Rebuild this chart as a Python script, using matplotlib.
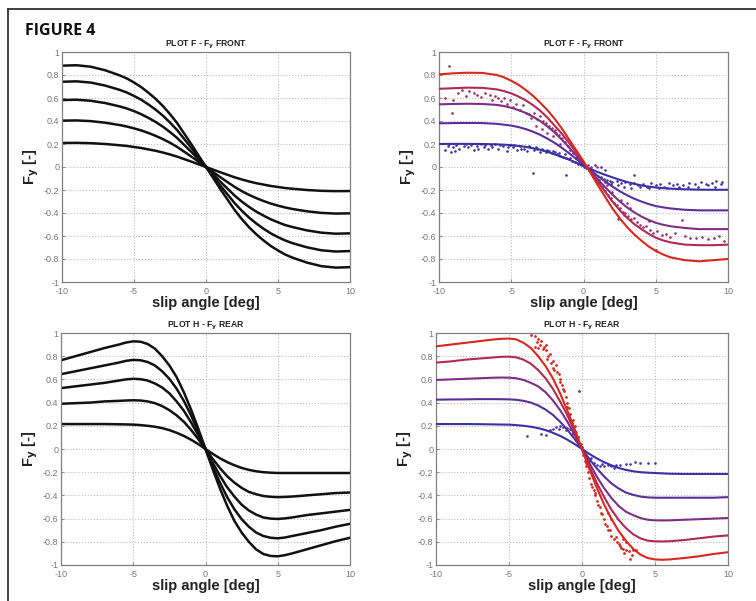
import matplotlib
matplotlib.use("Agg")
import matplotlib.pyplot as plt
from matplotlib.lines import Line2D

plt.rcParams['font.family'] = ['Liberation Sans', 'DejaVu Sans']

# ---------------- data ----------------
slip = [-10, -9, -8, -7, -6, -5.5, -5, -4.5, -4, -3.5, -3, -2.5, -2, -1.5, -1, -0.5, 0,
        0.5, 1, 1.5, 2, 2.5, 3, 3.5, 4, 4.5, 5, 5.5, 6, 7, 8, 9, 10]

# Plot F (front) - model curves, black (top-left)
front_bw = [
    [0.209, 0.21, 0.207, 0.2, 0.189, 0.183, 0.174, 0.165, 0.153, 0.141, 0.126, 0.109, 0.09, 0.068, 0.046, 0.023, 0,
     -0.023, -0.046, -0.068, -0.09, -0.109, -0.126, -0.141, -0.153, -0.165, -0.174, -0.183, -0.189, -0.2, -0.207, -0.21, -0.209],
    [0.403, 0.405, 0.399, 0.385, 0.365, 0.352, 0.336, 0.318, 0.296, 0.271, 0.243, 0.211, 0.174, 0.132, 0.089, 0.045, 0,
     -0.045, -0.089, -0.132, -0.174, -0.211, -0.243, -0.271, -0.296, -0.318, -0.336, -0.352, -0.365, -0.385, -0.399, -0.405, -0.403],
    [0.582, 0.585, 0.576, 0.556, 0.527, 0.509, 0.486, 0.459, 0.427, 0.392, 0.351, 0.304, 0.252, 0.19, 0.129, 0.064, 0,
     -0.064, -0.128, -0.189, -0.25, -0.302, -0.348, -0.389, -0.423, -0.455, -0.481, -0.505, -0.522, -0.551, -0.571, -0.58, -0.577],
    [0.741, 0.745, 0.734, 0.708, 0.671, 0.648, 0.618, 0.585, 0.544, 0.499, 0.447, 0.387, 0.32, 0.242, 0.164, 0.082, 0,
     -0.081, -0.162, -0.239, -0.316, -0.382, -0.441, -0.492, -0.537, -0.577, -0.61, -0.639, -0.662, -0.698, -0.724, -0.735, -0.731],
    [0.881, 0.885, 0.872, 0.841, 0.797, 0.77, 0.735, 0.695, 0.646, 0.593, 0.531, 0.46, 0.381, 0.288, 0.195, 0.097, 0,
     -0.096, -0.193, -0.284, -0.376, -0.455, -0.525, -0.586, -0.639, -0.687, -0.726, -0.761, -0.788, -0.831, -0.862, -0.875, -0.871],
]

# Plot F (front) - fitted curves (top-right)
front_fit = [
    [0.2, 0.201, 0.201, 0.2, 0.197, 0.194, 0.19, 0.183, 0.175, 0.163, 0.15, 0.132, 0.11, 0.088, 0.065, 0.037, 0.01,
     -0.018, -0.045, -0.068, -0.09, -0.111, -0.13, -0.146, -0.16, -0.17, -0.178, -0.184, -0.188, -0.194, -0.197, -0.198, -0.198],
    [0.38, 0.382, 0.383, 0.382, 0.375, 0.368, 0.36, 0.347, 0.33, 0.307, 0.28, 0.247, 0.21, 0.167, 0.12, 0.07, 0.02,
     -0.03, -0.08, -0.125, -0.17, -0.21, -0.245, -0.275, -0.3, -0.322, -0.34, -0.351, -0.36, -0.372, -0.377, -0.377, -0.377],
    [0.545, 0.548, 0.55, 0.548, 0.54, 0.53, 0.515, 0.495, 0.47, 0.438, 0.4, 0.353, 0.3, 0.238, 0.17, 0.1, 0.03,
     -0.04, -0.11, -0.175, -0.24, -0.298, -0.35, -0.393, -0.43, -0.46, -0.485, -0.502, -0.515, -0.53, -0.54, -0.54, -0.54],
    [0.68, 0.685, 0.69, 0.688, 0.675, 0.66, 0.64, 0.613, 0.58, 0.538, 0.49, 0.43, 0.36, 0.29, 0.21, 0.125, 0.04,
     -0.045, -0.13, -0.215, -0.3, -0.375, -0.44, -0.495, -0.54, -0.58, -0.615, -0.638, -0.655, -0.675, -0.68, -0.68, -0.675],
    [0.805, 0.815, 0.82, 0.818, 0.8, 0.78, 0.75, 0.715, 0.67, 0.62, 0.56, 0.495, 0.42, 0.335, 0.24, 0.145, 0.05,
     -0.055, -0.16, -0.26, -0.36, -0.445, -0.52, -0.585, -0.64, -0.69, -0.73, -0.76, -0.785, -0.81, -0.82, -0.81, -0.8],
]

# Plot H (rear) - model curves, black (bottom-left)
rear_bw = [
    [0.215, 0.215, 0.215, 0.215, 0.213, 0.212, 0.21, 0.206, 0.2, 0.192, 0.18, 0.163, 0.14, 0.113, 0.08, 0.042, 0,
     -0.042, -0.08, -0.113, -0.14, -0.163, -0.18, -0.192, -0.2, -0.204, -0.207, -0.207, -0.207, -0.207, -0.207, -0.207, -0.207],
    [0.39, 0.395, 0.4, 0.41, 0.415, 0.418, 0.42, 0.418, 0.41, 0.395, 0.37, 0.335, 0.29, 0.235, 0.165, 0.085, 0,
     -0.085, -0.165, -0.235, -0.29, -0.335, -0.37, -0.39, -0.405, -0.412, -0.415, -0.413, -0.41, -0.4, -0.39, -0.38, -0.375],
    [0.525, 0.54, 0.555, 0.57, 0.59, 0.6, 0.605, 0.602, 0.59, 0.565, 0.53, 0.48, 0.41, 0.33, 0.23, 0.12, 0,
     -0.12, -0.23, -0.33, -0.41, -0.48, -0.53, -0.565, -0.59, -0.6, -0.603, -0.598, -0.59, -0.57, -0.555, -0.54, -0.525],
    [0.645, 0.67, 0.695, 0.72, 0.745, 0.76, 0.768, 0.765, 0.75, 0.72, 0.67, 0.605, 0.52, 0.415, 0.29, 0.15, 0,
     -0.15, -0.29, -0.415, -0.52, -0.605, -0.67, -0.72, -0.75, -0.765, -0.77, -0.763, -0.75, -0.725, -0.7, -0.67, -0.645],
    [0.765, 0.8, 0.835, 0.87, 0.9, 0.918, 0.928, 0.925, 0.905, 0.865, 0.8, 0.72, 0.62, 0.49, 0.34, 0.175, 0,
     -0.175, -0.34, -0.49, -0.62, -0.72, -0.8, -0.865, -0.905, -0.922, -0.925, -0.915, -0.9, -0.865, -0.83, -0.795, -0.765],
]

# Plot H (rear) - fitted curves (bottom-right)
rear_fit = [
    [0.215, 0.215, 0.215, 0.214, 0.212, 0.211, 0.21, 0.206, 0.2, 0.192, 0.18, 0.163, 0.14, 0.113, 0.08, 0.042, 0,
     -0.042, -0.08, -0.113, -0.14, -0.163, -0.18, -0.192, -0.2, -0.204, -0.207, -0.21, -0.213, -0.215, -0.215, -0.215, -0.215],
    [0.425, 0.427, 0.428, 0.43, 0.43, 0.429, 0.428, 0.424, 0.415, 0.4, 0.375, 0.34, 0.295, 0.235, 0.165, 0.085, 0,
     -0.085, -0.165, -0.235, -0.295, -0.34, -0.375, -0.395, -0.41, -0.417, -0.42, -0.42, -0.42, -0.42, -0.42, -0.42, -0.415],
    [0.595, 0.6, 0.605, 0.61, 0.615, 0.616, 0.615, 0.61, 0.595, 0.57, 0.54, 0.49, 0.42, 0.335, 0.235, 0.12, 0,
     -0.12, -0.235, -0.335, -0.42, -0.49, -0.54, -0.57, -0.595, -0.61, -0.615, -0.616, -0.615, -0.61, -0.605, -0.6, -0.595],
    [0.745, 0.755, 0.77, 0.78, 0.79, 0.795, 0.796, 0.79, 0.77, 0.735, 0.68, 0.61, 0.52, 0.41, 0.29, 0.15, 0,
     -0.15, -0.29, -0.41, -0.52, -0.61, -0.68, -0.735, -0.77, -0.79, -0.796, -0.797, -0.795, -0.785, -0.77, -0.755, -0.745],
    [0.885, 0.9, 0.915, 0.93, 0.945, 0.95, 0.952, 0.945, 0.915, 0.87, 0.8, 0.715, 0.61, 0.48, 0.33, 0.17, 0,
     -0.17, -0.33, -0.475, -0.6, -0.705, -0.79, -0.86, -0.91, -0.94, -0.952, -0.955, -0.952, -0.94, -0.925, -0.905, -0.89],
]

fit_colors = ['#3b30a6', '#5a2f9c', '#7e2e86', '#b02a52', '#d8281e']

# measured points, front (top-right)
front_blue_x = [-9.6, -9.4, -9.2, -9.0, -8.8, -8.6, -8.3, -8.0, -7.8, -7.6, -7.4, -7.1, -6.9, -6.6, -6.4, -6.1, -5.9, -5.6, -5.3, -5.1,
                -4.9, -4.6, -4.4, -4.1, -3.9, -3.7, -3.4, -3.2, -3.0, -2.8, -2.6, -2.4, -2.2, -2.0, -1.8, -1.6, -1.4, -1.2, -1.0, -0.8,
                -0.6, -0.4, -0.2, 0.0, 0.2, 0.4, 0.6, 0.8, 1.0, 1.2, 1.4, 1.6, 1.8, 2.0, 2.3, 2.6, 2.9, 3.2, 3.5, 3.8,
                4.1, 4.4, 4.7, 5.0, 5.3, 5.6, 5.9, 6.2, 6.5, 6.9, 7.3, 7.7, 8.1, 8.5, 8.9, 9.2, 9.5, -3.5, -1.2, 3.5,
                0.8, 1.2, -0.5, 1.5, -9.3, -8.9, -8.1, -7.3, -6.8, -6.3, -5.8, -5.2, -4.8, -4.3, -3.8, -3.3, -2.9, -2.5, -2.1, -1.7,
                -1.3, -0.9, 1.1, 1.5, 1.9, 2.4, 2.8, 3.3, 3.9, 4.5, 5.2, 5.8, 6.6, 7.2, 7.9, 8.6, 9.1, 9.6]
front_blue_y = [0.15, 0.18, 0.13, 0.17, 0.19, 0.16, 0.18, 0.17, 0.19, 0.15, 0.18, 0.2, 0.17, 0.16, 0.19, 0.2, 0.16, 0.18, 0.14, 0.19,
                0.17, 0.15, 0.18, 0.16, 0.14, 0.17, 0.15, 0.16, 0.13, 0.15, 0.13, 0.14, 0.12, 0.13, 0.11, 0.1, 0.09, 0.08, 0.07, 0.05,
                0.04, 0.03, 0.02, 0.0, -0.01, -0.03, -0.04, -0.06, -0.08, -0.09, -0.1, -0.11, -0.12, -0.13, -0.12, -0.14, -0.13, -0.15, -0.14, -0.16,
                -0.15, -0.17, -0.14, -0.16, -0.15, -0.17, -0.14, -0.16, -0.15, -0.16, -0.14, -0.15, -0.13, -0.15, -0.14, -0.12, -0.15, -0.05, -0.07, -0.07,
                0.02, 0.0, 0.08, -0.03, 0.2, 0.14, 0.2, 0.16, 0.19, 0.17, 0.19, 0.17, 0.19, 0.16, 0.18, 0.17, 0.16, 0.15, 0.14, 0.12,
                0.11, 0.08, -0.11, -0.13, -0.15, -0.16, -0.17, -0.18, -0.17, -0.18, -0.18, -0.18, -0.17, -0.17, -0.17, -0.16, -0.17, -0.13]
front_mag_x = [-9.3, -9.6, -9.1, -9.0, -8.7, -8.4, -8.1, -7.9, -7.6, -7.4, -7.1, -6.8, -6.5, -6.3, -6.1, -5.9, -5.7, -5.5, -5.3, -5.1,
               -4.9, -4.7, -4.4, -4.2, -4.0, -3.8, -3.6, -3.4, -3.2, -3.0, -2.8, -2.6, -2.4, -2.2, -2.0, -1.9, -1.7, -1.5, -1.3, -1.1,
               -0.9, -0.7, -0.5, -0.3, -2.5, -2.1, -1.6, -3.3, -2.9, 0.3, 0.6, 0.9, 1.1, 1.3, 1.5, 1.7, 1.9, 2.1, 2.3, 2.5,
               2.7, 2.9, 3.1, 3.3, 3.5, 3.7, 3.9, 4.1, 4.3, 4.6, 4.8, 5.1, 5.4, 5.7, 6.0, 6.3, 6.8, 7.0, 7.4, 7.8,
               8.2, 8.6, 9.0, 9.4, 9.7, 5.0, 2.0, 2.6, 3.2, 1.6, 3.0, 4.5, 0.5, 0.9, 2.4, 2.8]
front_mag_y = [0.88, 0.6, 0.47, 0.58, 0.64, 0.67, 0.62, 0.66, 0.64, 0.63, 0.61, 0.64, 0.63, 0.58, 0.62, 0.6, 0.57, 0.6, 0.55, 0.58,
               0.52, 0.55, 0.5, 0.54, 0.47, 0.46, 0.43, 0.47, 0.42, 0.44, 0.4, 0.38, 0.36, 0.34, 0.32, 0.3, 0.28, 0.25, 0.22, 0.18,
               0.15, 0.12, 0.08, 0.05, 0.3, 0.27, 0.2, 0.36, 0.33, 0.02, -0.06, -0.1, -0.14, -0.17, -0.21, -0.24, -0.27, -0.31, -0.33, -0.36,
               -0.39, -0.4, -0.43, -0.45, -0.44, -0.48, -0.5, -0.52, -0.51, -0.55, -0.57, -0.56, -0.59, -0.58, -0.61, -0.57, -0.46, -0.6, -0.62, -0.62,
               -0.61, -0.63, -0.62, -0.6, -0.64, -0.72, -0.22, -0.29, -0.36, -0.16, -0.31, -0.47, 0.0, 0.0, -0.45, -0.42]

# measured points, rear (bottom-right)
rear_red_x = [-3.5, -3.2, -3.0, -2.8, -3.2, -3.0, -2.7, -2.5, -2.2, -2.4, -2.0, -1.8, -1.9, -1.6, -1.5, -1.4, -1.2, -1.1, -1.0, -0.9,
              -0.8, -0.6, -0.5, -0.4, -0.3, -0.2, 0.0, 0.1, 0.2, 0.3, 0.4, 0.5, 0.6, 0.8, 0.9, 1.0, 1.2, 1.3, 1.5, 1.6,
              1.8, 2.0, 2.2, 2.4, 2.6, 2.8, 3.0, 3.2, 3.5, 3.3, 3.7, 2.0, -2.5, 1.8, 2.8, 3.0, -2.9, -2.6, -2.3, -2.1,
              -1.7, -1.3, -0.7, -0.1, 0.7, 1.1, 1.4, 1.7, 2.3, 2.5, 2.7, -3.1, -2.0, -1.5, -1.0, 0.3, 0.9, 1.9, 2.9, 3.4]
rear_red_y = [0.98, 0.97, 0.95, 0.93, 0.88, 0.87, 0.86, 0.85, 0.82, 0.78, 0.76, 0.72, 0.68, 0.65, 0.6, 0.55, 0.5, 0.45, 0.4, 0.35,
              0.3, 0.25, 0.2, 0.15, 0.1, 0.05, 0.0, -0.05, -0.1, -0.15, -0.2, -0.25, -0.3, -0.35, -0.4, -0.45, -0.5, -0.55, -0.6, -0.65,
              -0.7, -0.75, -0.78, -0.8, -0.84, -0.86, -0.87, -0.88, -0.87, -0.95, -0.87, -0.6, 0.9, -0.55, -0.78, -0.8, 0.9, 0.88, 0.8, 0.74,
              0.66, 0.52, 0.22, 0.04, -0.33, -0.48, -0.56, -0.66, -0.76, -0.82, -0.85, 0.92, 0.7, 0.58, 0.36, -0.12, -0.38, -0.7, -0.9, -0.91]
rear_blue_x = [-3.8, -2.8, -2.5, -2.2, -2.0, -1.8, -1.5, -1.3, -1.0, -0.8, -0.5, -0.3, 0.0, 0.3, 0.5, 0.8, 1.0, 1.2, 1.5, 1.8,
               2.0, 2.3, 2.6, 3.0, 3.3, 3.6, 4.0, 4.5, 5.0, -1.6, -1.1, -0.7, 0.6, 1.4, 2.2]
rear_blue_y = [0.11, 0.13, 0.12, 0.16, 0.17, 0.19, 0.2, 0.19, 0.18, 0.17, 0.15, 0.1, 0.02, -0.05, -0.1, -0.12, -0.14, -0.15, -0.15, -0.14,
               -0.15, -0.14, -0.14, -0.13, -0.13, -0.11, -0.12, -0.12, -0.12, 0.17, 0.16, 0.13, -0.08, -0.13, -0.16]
rear_odd_x = [-0.2]
rear_odd_y = [0.5]

yticks = [-1, -0.8, -0.6, -0.4, -0.2, 0, 0.2, 0.4, 0.6, 0.8, 1]
ytick_labels = ['-1', '-0.8', '-0.6', '-0.4', '-0.2', '0', '0.2', '0.4', '0.6', '0.8', '1']
xticks = [-10, -5, 0, 5, 10]
xtick_labels = ['-10', '-5', '0', '5', '10']

# ---------------- figure ----------------
W, H = 756, 601
fig = plt.figure(figsize=(W / 100, H / 100), dpi=100)
fig.patch.set_facecolor('white')

def px_axes(l, t, r, b):
    return fig.add_axes([l / W, 1 - b / H, (r - l) / W, (b - t) / H])

ax_tl = px_axes(62, 52, 350, 282)
ax_tr = px_axes(439, 52, 728, 282)
ax_bl = px_axes(61, 333, 350, 565)
ax_br = px_axes(436, 333, 728, 565)

def style(ax, title):
    ax.set_xlim(-10, 10)
    ax.set_ylim(-1, 1)
    ax.set_xticks(xticks)
    ax.set_xticklabels(xtick_labels)
    ax.set_yticks(yticks)
    ax.set_yticklabels(ytick_labels)
    ax.tick_params(labelsize=6.5, colors='#777777', length=2, width=0.6, direction='in')
    ax.tick_params(axis='x', pad=3.5)
    ax.tick_params(axis='y', pad=2)
    ax.grid(True, linestyle=':', color='#bbbbbb', linewidth=0.8)
    for s in ax.spines.values():
        s.set_color('#808080')
        s.set_linewidth(0.9)
    ax.set_title(title, fontsize=6.2, fontweight='bold', color='#222222', pad=4)
    ax.set_xlabel('slip angle [deg]', fontsize=10.5, fontweight='bold', color='#222222', labelpad=0)
    ax.set_ylabel(r'F$_\mathbf{y}$ [-]', fontsize=10.5, fontweight='bold', color='#222222', labelpad=2)

front_title = r'PLOT F - F$_\mathbf{y}$ FRONT'
rear_title = r'PLOT H - F$_\mathbf{y}$ REAR'

for c in front_bw:
    ax_tl.plot(slip, c, color='#111111', lw=1.8, solid_joinstyle='round')
style(ax_tl, front_title)

ax_tr.scatter(front_blue_x, front_blue_y, s=3.5, color='#3d30a0', linewidths=0, zorder=3)
ax_tr.scatter(front_mag_x, front_mag_y, s=3.5, color='#9a2c6a', linewidths=0, zorder=3)
for c, col in zip(front_fit, fit_colors):
    ax_tr.plot(slip, c, color=col, lw=1.5, zorder=4, solid_joinstyle='round')
style(ax_tr, front_title)

for c in rear_bw:
    ax_bl.plot(slip, c, color='#111111', lw=1.8, solid_joinstyle='round')
style(ax_bl, rear_title)

ax_br.scatter(rear_blue_x, rear_blue_y, s=3.5, color='#3d30a0', linewidths=0, zorder=3)
ax_br.scatter(rear_red_x, rear_red_y, s=4, color='#d8281e', linewidths=0, zorder=3)
ax_br.scatter(rear_odd_x, rear_odd_y, s=4, color='#8a2a3a', linewidths=0, zorder=3)
for c, col in zip(rear_fit, fit_colors):
    ax_br.plot(slip, c, color=col, lw=1.5, zorder=4, solid_joinstyle='round')
style(ax_br, rear_title)

# frame lines and figure label
fig.add_artist(Line2D([8 / W, 1], [1 - 9 / H, 1 - 9 / H], color='#333333', lw=1.3))
fig.add_artist(Line2D([8 / W, 8 / W], [0, 1 - 9 / H], color='#333333', lw=1.3))
fig.text(25 / W, 1 - 31 / H, 'FIGURE 4', fontsize=11.5, fontweight='bold', color='#111111',
         family=['Open Sans', 'DejaVu Sans'], va='center', ha='left')

fig.savefig('out.png', dpi=100)
